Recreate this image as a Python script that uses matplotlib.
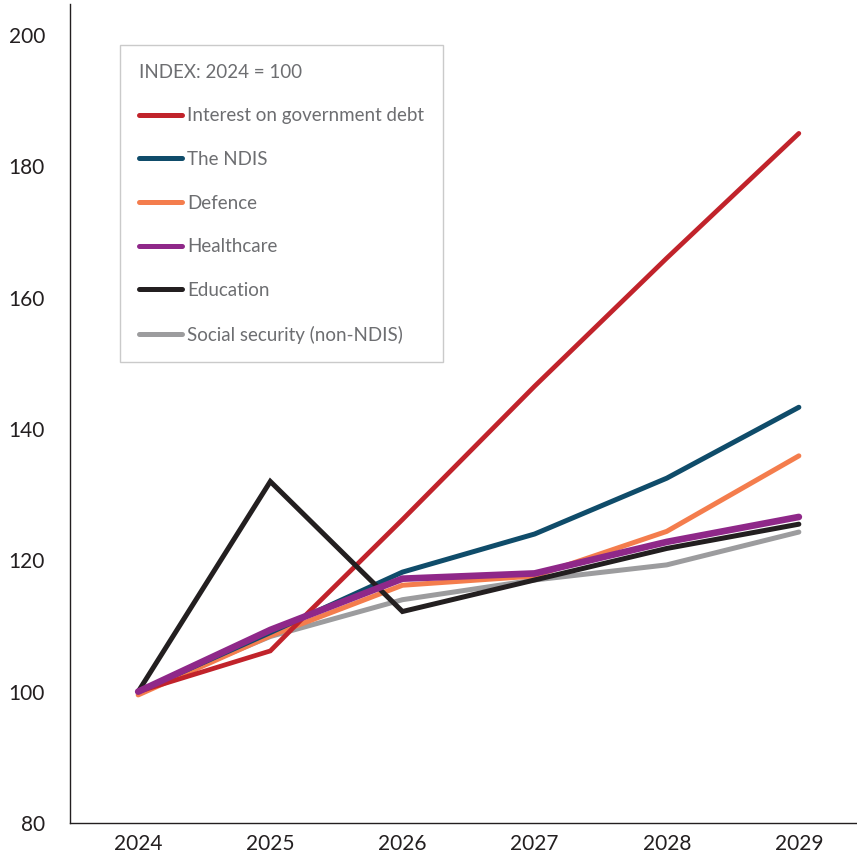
import matplotlib.pyplot as plt

# index values, 2024 = 100
years = [2024, 2025, 2026, 2027, 2028, 2029]

interest_x = [2024, 2025, 2025.28, 2026, 2027, 2028, 2029]
interest = [100, 106.2, 111.9, 126.2, 146.5, 166.0, 185.0]
ndis = [100, 109.0, 118.2, 124.0, 132.5, 143.3]
defence = [99.5, 108.5, 116.2, 117.6, 124.4, 135.9]
healthcare = [100, 109.4, 117.2, 118.0, 122.8, 126.6]
education = [100, 132.0, 112.2, 117.0, 121.8, 125.5]
social_security = [100, 108.4, 114.0, 117.0, 119.3, 124.3]

labels = ["Interest on government debt", "The NDIS", "Defence", "Healthcare",
          "Education", "Social security (non-NDIS)"]
colors = ["#C1232B", "#0F4C6A", "#F47D4D", "#8F2889", "#231F20", "#9C9C9E"]
widths = [3.4, 3.6, 3.6, 4.8, 3.6, 3.6]

plt.rcParams["font.family"] = ["Lato", "DejaVu Sans"]

fig = plt.figure(figsize=(8.57, 8.55), dpi=100)
ax = fig.add_axes([70 / 857, 32 / 855, 787 / 857, 819 / 855])

series = [(interest_x, interest), (years, ndis), (years, defence),
          (years, healthcare), (years, education), (years, social_security)]
# draw back to front so purple sits over grey and orange
order = [5, 2, 1, 0, 4, 3]
handles = {}
for i in order:
    xs, ys = series[i]
    line, = ax.plot(xs, ys, color=colors[i], lw=widths[i], label=labels[i],
                    solid_capstyle="round", solid_joinstyle="miter", zorder=3 + order.index(i))
    handles[i] = line

ax.set_xlim(2023.484, 2029.44)
ax.set_ylim(80, 204.7)
ax.set_xticks(years)
ax.set_yticks(range(80, 201, 20))
ax.tick_params(length=0, labelsize=15, colors="#231F20")
ax.tick_params(axis="y", pad=18)
ax.tick_params(axis="x", pad=8)

for side in ["top", "right"]:
    ax.spines[side].set_visible(False)
for side in ["left", "bottom"]:
    ax.spines[side].set_color("#231F20")
    ax.spines[side].set_linewidth(1.0)

leg = ax.legend([handles[i] for i in range(6)], labels,
                title="INDEX: 2024 = 100", loc="upper left",
                bbox_to_anchor=(120 / 857, 1 - 45 / 855), bbox_transform=fig.transFigure,
                borderaxespad=0, frameon=True, fancybox=False,
                edgecolor="#BDBDBD", fontsize=13.5, title_fontsize=13.5,
                handlelength=2.3, handletextpad=0.27, labelspacing=1.42,
                borderpad=1.0, alignment="left")
leg.get_frame().set_linewidth(1.0)
leg.get_title().set_color("#6D6E71")
for t in leg.get_texts():
    t.set_color("#6D6E71")
for h in leg.legend_handles:
    h.set_linewidth(3.6)

fig.savefig("out.png", dpi=100)
